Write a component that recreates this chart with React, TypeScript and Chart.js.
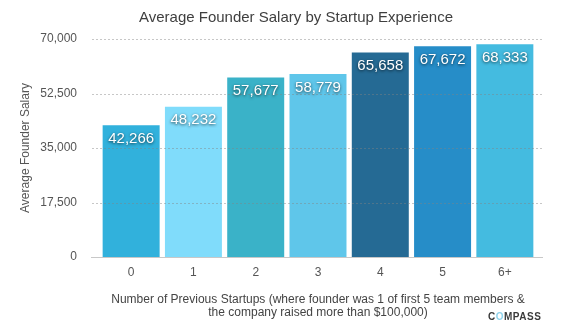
import React, { useEffect, useRef } from "react";
import { Chart, registerables } from "chart.js";

Chart.register(...registerables);

const categories = ["0", "1", "2", "3", "4", "5", "6+"];
const salaries = [42266, 48232, 57677, 58779, 65658, 67672, 68333];
const barColors = ["#31b1dc", "#80dcfb", "#3ab2c8", "#5fc6ea", "#256a94", "#268dc8", "#44bbe0"];
const yMax = 70000;
const yStep = 17500;
const chartTitle = "Average Founder Salary by Startup Experience";
const yTitle = "Average Founder Salary";
const xTitle = [
  "Number of Previous Startups (where founder was 1 of first 5 team members &",
  "the company raised more than $100,000)",
];
const FONT = "'Liberation Sans', Arial, Helvetica, sans-serif";

const overlayPlugin = {
  id: "overlay",
  afterDatasetsDraw(chart: any) {
    const { ctx } = chart;
    const y = chart.scales.y;
    const area = chart.chartArea;
    ctx.save();
    // dotted gridlines over bars
    y.ticks.forEach((t: any) => {
      const py = Math.round(y.getPixelForValue(t.value)) + 0.5;
      ctx.beginPath();
      if (t.value === 0) {
        ctx.setLineDash([]);
        ctx.strokeStyle = "#c8c8c8";
        ctx.moveTo(area.left - 9, py);
        ctx.lineTo(area.right + 7, py);
      } else {
        ctx.setLineDash([2, 2]);
        ctx.strokeStyle = "rgba(130,130,130,0.45)";
        ctx.moveTo(area.left - 8, py);
        ctx.lineTo(area.right + 7, py);
      }
      ctx.lineWidth = 1;
      ctx.stroke();
    });
    ctx.setLineDash([]);
    // value labels
    const meta = chart.getDatasetMeta(0);
    ctx.font = `15px ${FONT}`;
    ctx.textAlign = "center";
    ctx.textBaseline = "middle";
    ctx.fillStyle = "#ffffff";
    ctx.shadowColor = "rgba(0,0,0,0.7)";
    ctx.shadowBlur = 3;
    ctx.shadowOffsetX = 0;
    ctx.shadowOffsetY = 1;
    meta.data.forEach((bar: any, i: number) => {
      ctx.fillText(salaries[i].toLocaleString("en-US"), bar.x, bar.y + 13.5);
    });
    ctx.restore();
  },
  afterDraw(chart: any) {
    const { ctx } = chart;
    ctx.save();
    ctx.font = `15px ${FONT}`;
    ctx.fillStyle = "#3f3f3f";
    ctx.textAlign = "center";
    ctx.textBaseline = "middle";
    ctx.fillText(chartTitle, 296, 18);
    // logo
    ctx.font = `bold 10px ${FONT}`;
    ctx.textAlign = "left";
    (ctx as any).letterSpacing = "0.5px";
    let x = 488;
    const parts: [string, string][] = [["C", "#3a3a3a"], ["O", "#8fd3ec"], ["MPASS", "#3a3a3a"]];
    parts.forEach(([s, c]) => {
      ctx.fillStyle = c;
      ctx.fillText(s, x, 317);
      x += ctx.measureText(s).width;
    });
    ctx.restore();
  },
};

export default function App() {
  const ref = useRef<HTMLCanvasElement>(null);
  useEffect(() => {
    document.body.style.margin = "0";
    const chart = new Chart(ref.current!, {
      type: "bar",
      data: {
        labels: categories,
        datasets: [
          {
            data: salaries,
            backgroundColor: barColors,
            borderWidth: 0,
            barPercentage: 0.915,
            categoryPercentage: 1,
          },
        ],
      },
      options: {
        responsive: false,
        animation: false,
        devicePixelRatio: 1,
        layout: { padding: { top: 39, right: 25, left: 0, bottom: 0 } },
        plugins: { legend: { display: false }, tooltip: { enabled: false }, title: { display: false } },
        scales: {
          x: {
            afterFit: (s: any) => {
              s.height = 76;
            },
            grid: { display: false, drawTicks: false },
            border: { display: false },
            ticks: { color: "#555", font: { family: FONT, size: 12 }, padding: 8 },
            title: {
              display: true,
              text: xTitle,
              color: "#444",
              font: { family: FONT, size: 12, lineHeight: 1.05 },
              padding: { top: 0, bottom: 14 },
            },
          },
          y: {
            min: 0,
            max: yMax,
            afterFit: (s: any) => {
              s.width = 100;
            },
            grid: { display: false, drawTicks: false },
            border: { display: false },
            ticks: {
              stepSize: yStep,
              color: "#555",
              font: { family: FONT, size: 12 },
              padding: 23,
              callback: (v: any) => Number(v).toLocaleString("en-US"),
            },
            title: {
              display: true,
              text: yTitle,
              color: "#555",
              font: { family: FONT, size: 12 },
              padding: { top: 18, bottom: 0 },
            },
          },
        },
      },
      plugins: [overlayPlugin],
    });
    return () => chart.destroy();
  }, []);
  return <canvas ref={ref} width={561} height={333} style={{ display: "block" }} />;
}
